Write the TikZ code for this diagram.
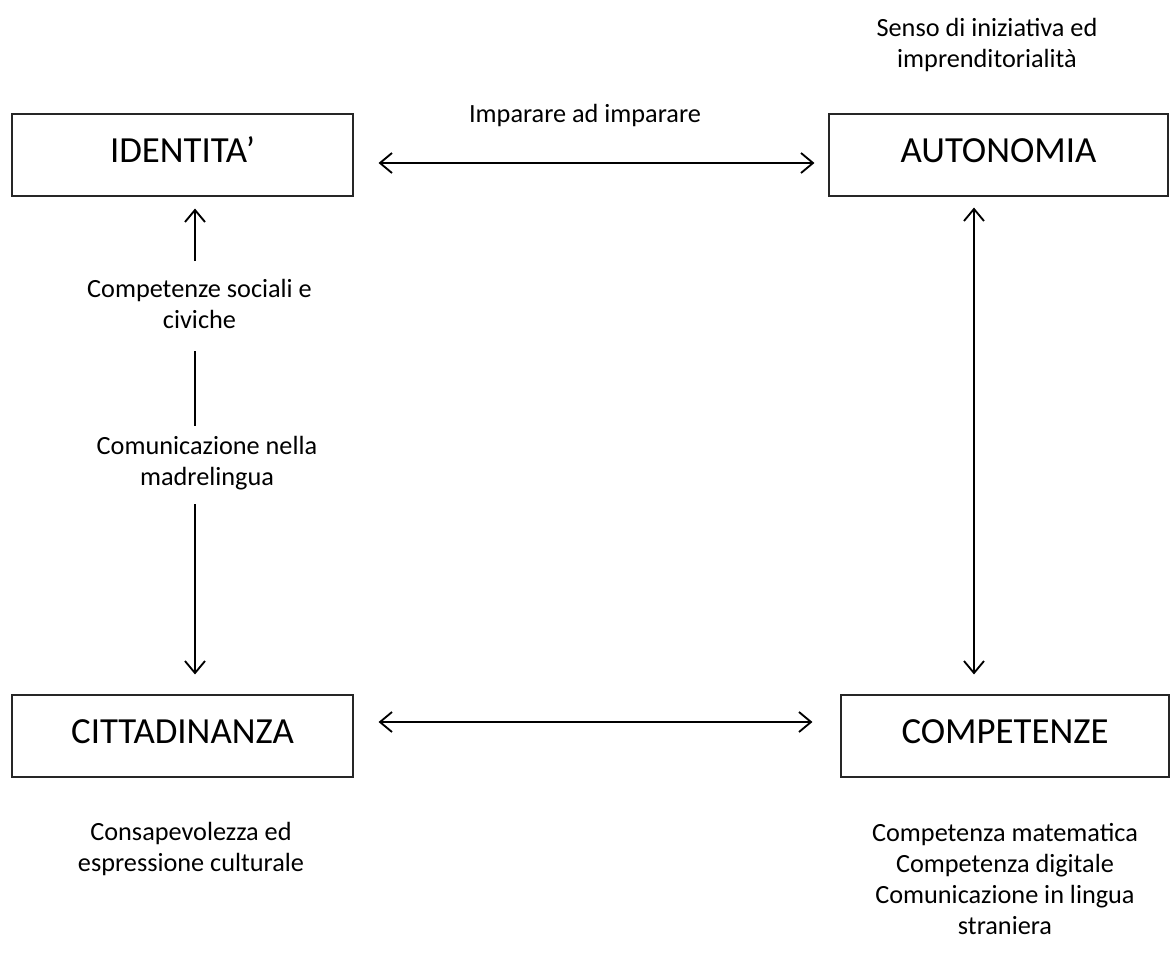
\documentclass[tikz,border=0pt]{standalone}
\usepackage{fontspec}
\setmainfont{Carlito}
\usetikzlibrary{arrows.meta,positioning}
\tikzset{
  keybox/.style={
    rectangle, draw=black!85, line width=0.8pt,
    minimum width=#1, minimum height=61.5pt,
    text height=17.8pt, text depth=7.3pt,
    align=center, font=\fontsize{27.6}{33}\selectfont
  },
  lbl/.style={
    align=center, inner sep=0pt,
    font=\fontsize{19.7}{23.3}\selectfont
  },
  myarr/.style={line width=1.4pt, >={Straight Barb[length=9pt,width=15pt]}},
}
\begin{document}
\begin{tikzpicture}[x=0.75pt,y=-0.75pt]
  \useasboundingbox (0,0) rectangle (1170,976);

  % Row 1 — top boxes
  \node[keybox=255.75pt] (id) at (182.5,155) {IDENTITA’};
  \node[keybox=254.25pt] (au) at (998.5,155) {AUTONOMIA};

  % Row 2 — bottom boxes
  \node[keybox=255.75pt] (ci) at (182.5,736) {CITTADINANZA};
  \node[keybox=246pt]    (co) at (1005,736)  {COMPETENZE};

  % Labels
  \node[lbl] (sen) at (987,45)  {Senso di iniziativa ed\\imprenditorialità};
  \node[lbl] (imp) at (585,115) {Imparare ad imparare};
  \node[lbl] (cs)  at (199.5,304) {Competenze sociali e\\civiche};
  \node[lbl] (cm)  at (207,463) {Comunicazione nella\\madrelingua};
  \node[lbl] (cons) at (191,849) {Consapevolezza ed\\espressione culturale};
  \node[lbl] (cmat) at (1005,879)
    {Competenza matematica\\Competenza digitale\\Comunicazione in lingua\\straniera};
  \coordinate (lx) at (195,0);

  % Arrows
  \draw[myarr,<->,shorten <=18.75pt,shorten >=10.5pt]
    ([yshift=-6pt]id.east) -- ([yshift=-6pt]au.west);
  \draw[myarr,<->,shorten <=18.75pt,shorten >=21pt]
    ([yshift=10.5pt]ci.east) -- ([yshift=10.5pt]co.west);
  \draw[myarr,<->,shorten <=8.25pt,shorten >=15pt]
    ([xshift=-18.4pt]au.south) -- ([xshift=-23.25pt]co.north);
  \draw[myarr,->,shorten <=13.5pt,shorten >=9pt] (cs.north -| lx) -- (id.south -| lx);
  \draw[myarr,shorten <=16.5pt,shorten >=7.5pt]  (cs.south -| lx) -- (cm.north -| lx);
  \draw[myarr,->,shorten <=10.5pt,shorten >=15pt] (cm.south -| lx) -- (ci.north -| lx);
\end{tikzpicture}
\end{document}
